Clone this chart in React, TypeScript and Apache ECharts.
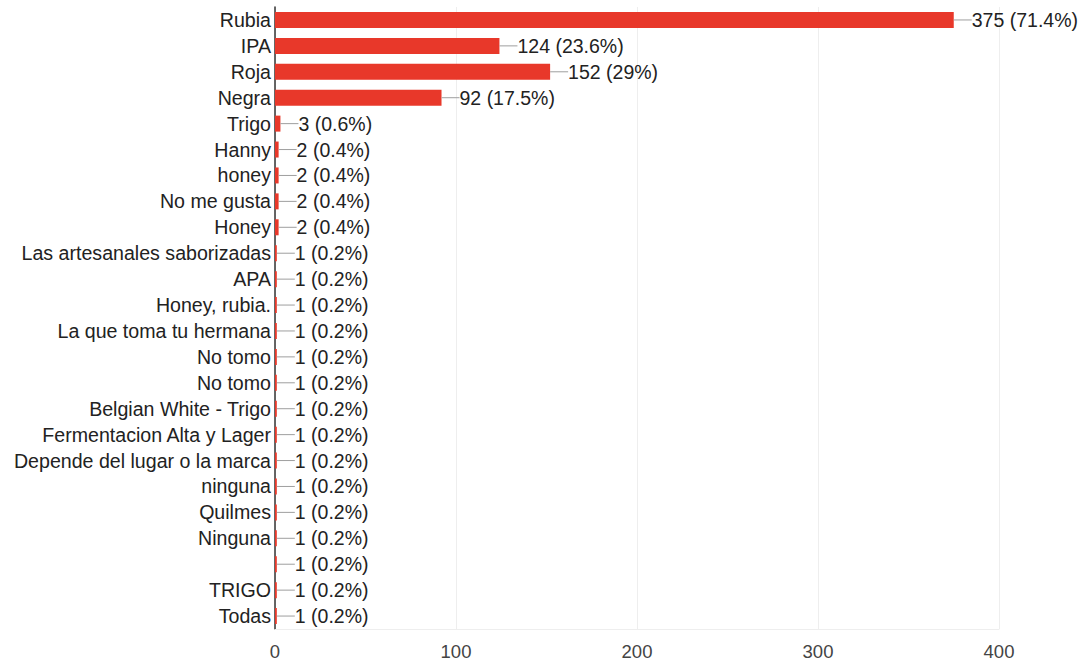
import React, { useEffect, useRef } from "react";
import * as echarts from "echarts";

const categories = [
  "Rubia", "IPA", "Roja", "Negra", "Trigo", "Hanny", "honey", "No me gusta", "Honey",
  "Las artesanales saborizadas", "APA", "Honey, rubia.", "La que toma tu hermana",
  "No tomo", "No tomo", "Belgian White - Trigo", "Fermentacion Alta y Lager",
  "Depende del lugar o la marca", "ninguna", "Quilmes", "Ninguna", "", "TRIGO", "Todas",
];
const values = [375, 124, 152, 92, 3, 2, 2, 2, 2, 1, 1, 1, 1, 1, 1, 1, 1, 1, 1, 1, 1, 1, 1, 1];
const percents = ["71.4%", "23.6%", "29%", "17.5%", "0.6%", "0.4%", "0.4%", "0.4%", "0.4%",
  "0.2%", "0.2%", "0.2%", "0.2%", "0.2%", "0.2%", "0.2%", "0.2%", "0.2%", "0.2%", "0.2%",
  "0.2%", "0.2%", "0.2%", "0.2%"];
const xTicks = [0, 100, 200, 300, 400];

export default function App() {
  const ref = useRef<HTMLDivElement>(null);
  useEffect(() => {
    if (!ref.current) return;
    const chart = echarts.init(ref.current, undefined, { renderer: "svg" });
    const font = "Liberation Sans, Arial, Helvetica, sans-serif";
    chart.setOption({
      animation: false,
      textStyle: { fontFamily: font },
      grid: { left: 275, right: 87, top: 7, bottom: 36, containLabel: false },
      xAxis: {
        type: "value",
        min: xTicks[0],
        max: xTicks[xTicks.length - 1],
        interval: 100,
        axisLine: { show: true, lineStyle: { color: "#eeeeee", width: 1 } },
        axisTick: { show: false },
        splitLine: { show: true, lineStyle: { color: "#eeeeee", width: 1 } },
        axisLabel: { color: "#444", fontSize: 18.5, margin: 13, fontFamily: font },
      },
      yAxis: {
        type: "category",
        inverse: true,
        data: categories,
        axisLine: { show: true, lineStyle: { color: "#333", width: 1.5 } },
        axisTick: { show: false },
        axisLabel: { color: "#222", fontSize: 19.6, margin: 4, fontFamily: font, interval: 0 },
      },
      series: [
        {
          type: "bar",
          data: values,
          barWidth: 16,
          itemStyle: { color: "#e8382a" },
          label: {
            show: true,
            position: "right",
            distance: 0,
            formatter: (p: any) => `{l|}{v|${p.value} (${percents[p.dataIndex]})}`,
            rich: {
              l: { width: 18, height: 1, backgroundColor: "#9e9e9e" },
              v: { color: "#222", fontSize: 19.5, fontFamily: font },
            },
          },
        },
      ],
    });
    return () => chart.dispose();
  }, []);
  return (
    <div
      ref={ref}
      style={{ position: "absolute", left: 0, top: 0, width: 1086, height: 665 }}
    />
  );
}
